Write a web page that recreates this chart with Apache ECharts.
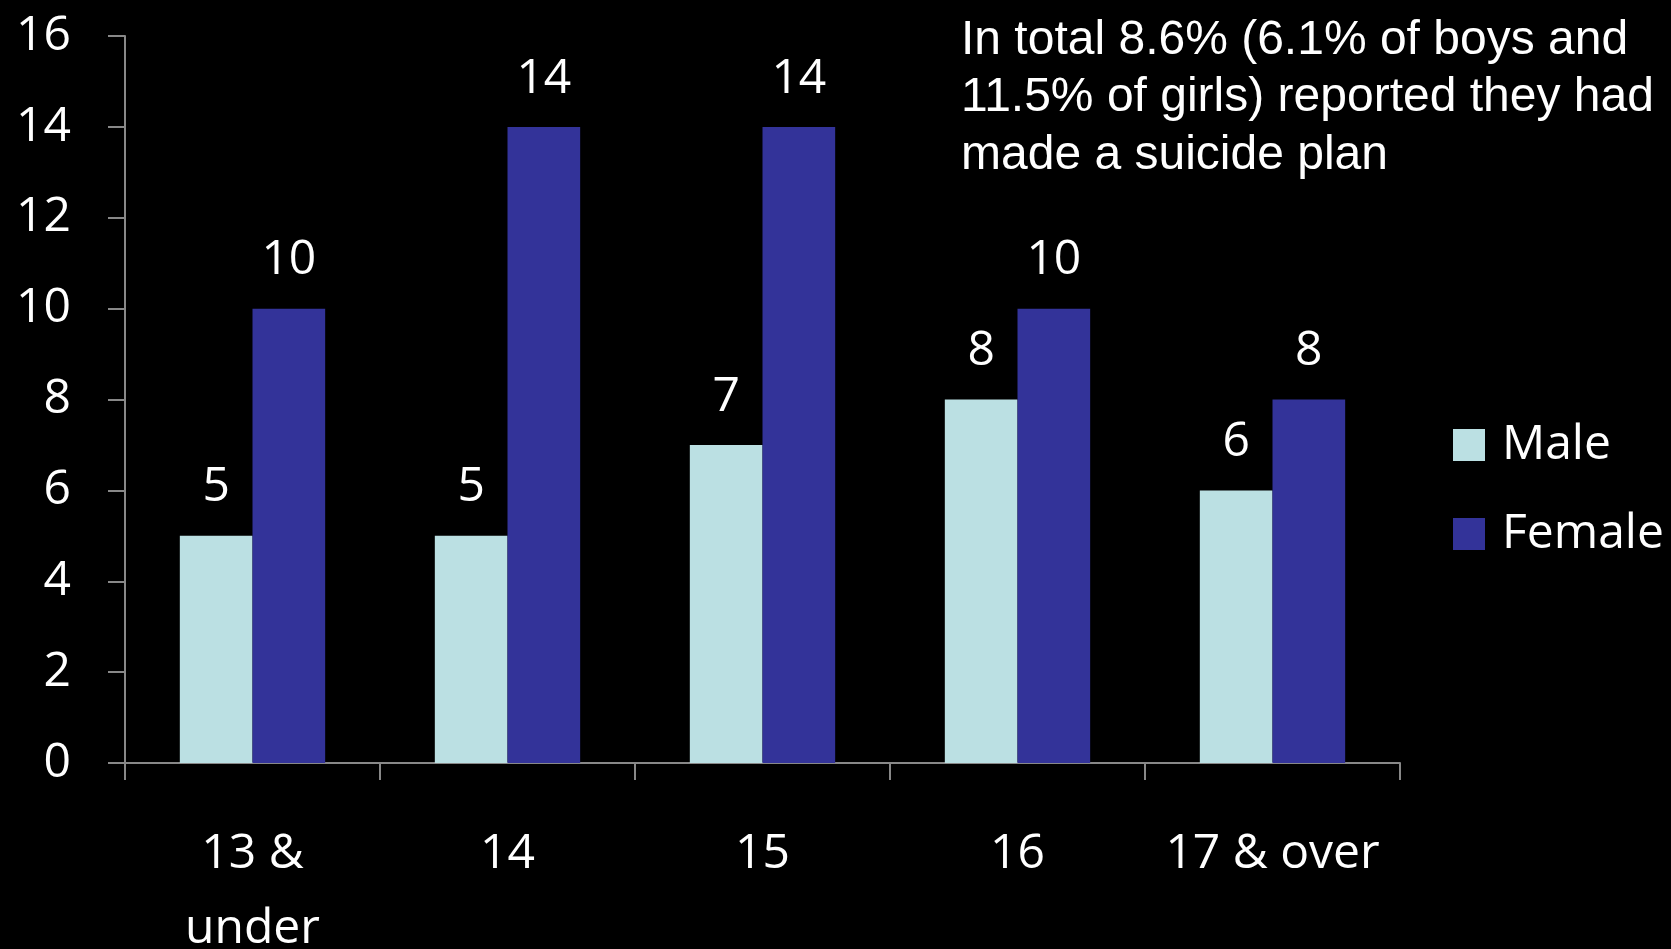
<!DOCTYPE html>
<html>
<head>
<meta charset="utf-8">
<script src="https://cdn.jsdelivr.net/npm/echarts@6/dist/echarts.min.js"></script>
<style>
html,body{margin:0;padding:0;background:#000;}
#chart{width:1671px;height:949px;}
</style>
</head>
<body>
<div id="chart"></div>
<script>
const categories = ["13 & under", "14", "15", "16", "17 & over"];
const maleValues = [5, 5, 7, 8, 6];
const femaleValues = [10, 14, 14, 10, 8];
const seriesNames = ["Male", "Female"];
const noteLines = ["In total 8.6% (6.1% of boys and", "11.5% of girls) reported they had", "made a suicide plan"];

const FONT = "Open Sans";
const chart = echarts.init(document.getElementById('chart'));
const labelStyle = {
  show: true, position: 'top', distance: 24, color: '#fff',
  fontFamily: FONT, fontSize: 48, lineHeight: 48
};
chart.setOption({
  backgroundColor: '#000',
  animation: false,
  grid: {left: 125, right: 271, top: 36, bottom: 186, containLabel: false, outerBoundsMode: 'none'},
  legend: {
    orient: 'vertical', left: 1448, top: 416,
    itemWidth: 32, itemHeight: 32, itemGap: 41,
    icon: 'rect',
    data: seriesNames,
    textStyle: {color: '#fff', fontFamily: FONT, fontSize: 48, lineHeight: 32, padding: [0, 0, 0, 12]}
  },
  xAxis: {
    type: 'category',
    data: categories,
    axisLine: {lineStyle: {color: '#888', width: 2}},
    axisTick: {show: true, length: 17, lineStyle: {color: '#888', width: 2}},
    axisLabel: {
      interval: 0, hideOverlap: false,
      color: '#fff', fontFamily: FONT, fontSize: 48, lineHeight: 75, margin: 54,
      formatter: v => v.replace(' under', '\nunder')
    }
  },
  yAxis: {
    type: 'value', min: 0, max: 16, interval: 2,
    axisLine: {show: true, lineStyle: {color: '#888', width: 2}},
    axisTick: {show: true, length: 17, lineStyle: {color: '#888', width: 2}},
    splitLine: {show: false},
    axisLabel: {color: '#fff', fontFamily: FONT, fontSize: 48, margin: 54}
  },
  series: [
    {name: seriesNames[0], type: 'bar', data: maleValues, barGap: '0%', barCategoryGap: '43%',
     itemStyle: {color: '#BBE0E3'}, label: labelStyle},
    {name: seriesNames[1], type: 'bar', data: femaleValues, barGap: '0%', barCategoryGap: '43%',
     itemStyle: {color: '#333399'}, label: labelStyle}
  ],
  graphic: [{
    type: 'text', left: 961, top: 12,
    style: {text: noteLines.join('\n'), fill: '#fff', font: '48px "Liberation Sans", Arial, sans-serif', lineHeight: 57.5}
  }]
});
</script>
</body>
</html>
